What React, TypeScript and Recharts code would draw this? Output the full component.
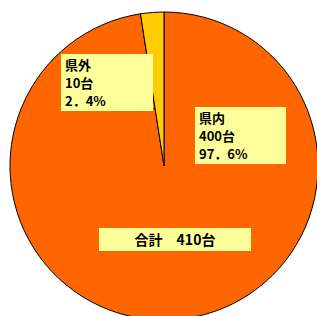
import * as React from 'react';
import {PieChart, Pie, Cell} from "recharts";

const categories = ['県内', '県外'];
const counts = [400, 10];
const percents = ['97．6%', '2．4%'];
const totalLabel = '合計　410台';

const colors = ['#FF6600', '#FFCC00'];

// label boxes were moved by hand in the original, so each gets its own spot
const boxes = [
    {x: 195, y: 107, w: 91, h: 57},
    {x: 61, y: 54, w: 92, h: 57},
];

const font = '"Noto Sans CJK JP", sans-serif';

function SliceLabel(props: any) {
    const b = boxes[props.index];
    const lines = [categories[props.index], counts[props.index] + '台', percents[props.index]];
    return (
        <g>
            <rect x={b.x} y={b.y} width={b.w} height={b.h} fill="#FFFF99" />
            <text x={b.x + 4} y={b.y + 16} fontSize={13} fontWeight="bold" fontFamily={font} fill="#000">
                {lines.map((t, i) => (
                    <tspan key={i} x={b.x + 4} dy={i === 0 ? 0 : 18}>{t}</tspan>
                ))}
            </text>
        </g>
    );
}

export default function App() {
    const data = categories.map((name, i) => ({name: name, value: counts[i]}));
    return (
        <div style={{position: 'absolute', left: 0, top: 0, width: 317, height: 316, background: '#fff'}}>
            <PieChart width={317} height={316} margin={{top: 0, right: 0, bottom: 0, left: 0}}>
                <Pie data={data} dataKey="value" cx={164} cy={166} outerRadius={154}
                     startAngle={90} endAngle={-270} stroke="#000" strokeWidth={1}
                     label={SliceLabel} labelLine={false} isAnimationActive={false}>
                    {data.map((d, i) => <Cell key={i} fill={colors[i]} />)}
                </Pie>
            </PieChart>
            <div style={{position: 'absolute', left: 99, top: 228, width: 152, height: 23, background: '#FFFF99',
                fontFamily: font, fontWeight: 'bold', fontSize: 14, lineHeight: '23px', textAlign: 'center'}}>
                {totalLabel}
            </div>
        </div>
    );
}
